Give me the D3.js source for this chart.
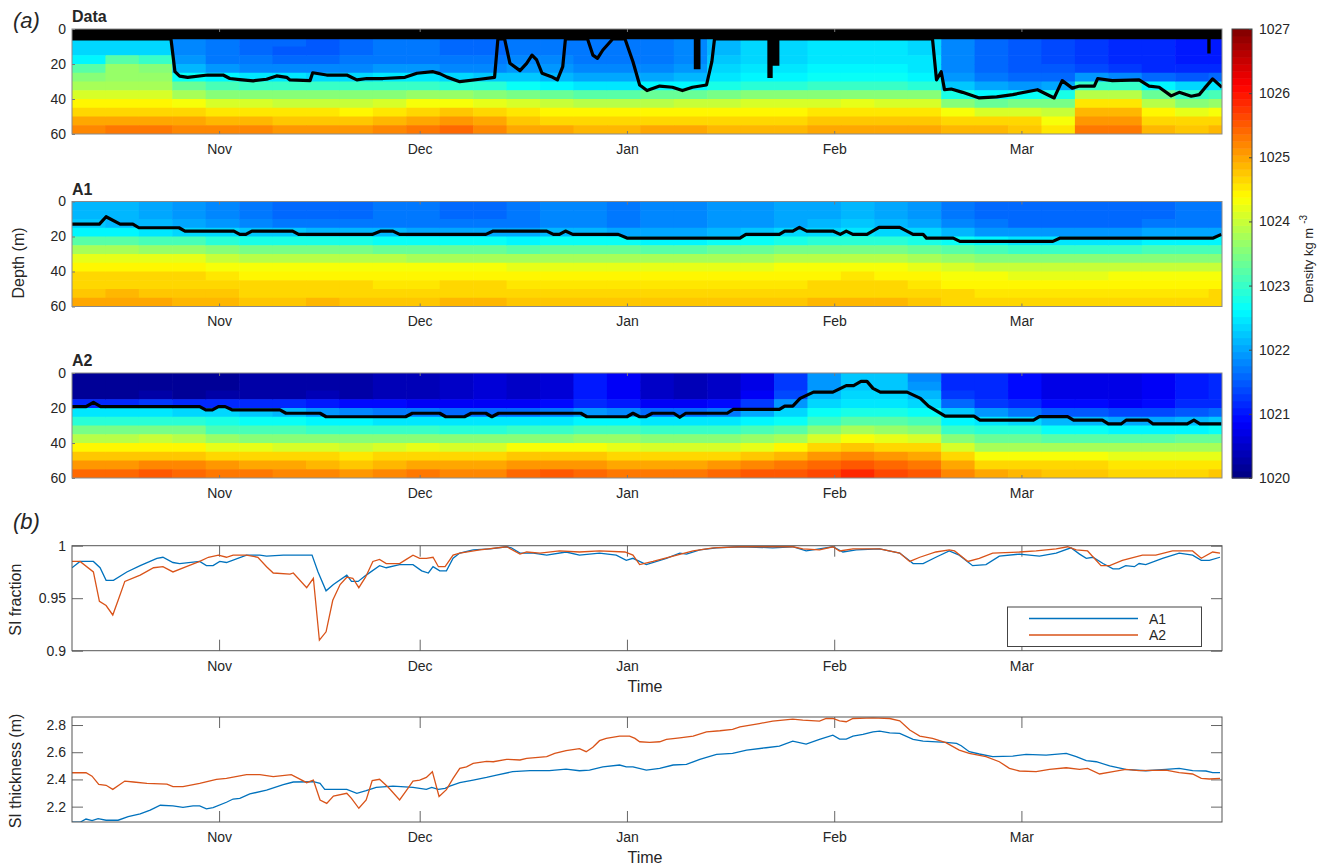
<!DOCTYPE html>
<html>
<head>
<meta charset="utf-8">
<script src="https://cdn.jsdelivr.net/npm/d3@7"></script>
<style>
  body { margin: 0; background: #fff; }
  svg text { font-family: "Liberation Sans", Arial, sans-serif; fill: #262626; }
</style>
</head>
<body>
<svg id="fig" width="1324" height="868"></svg>
<script>
// ---- grid of the density sections: 5-day columns, 5 m rows (sigma = density - 1000)
const colEdges = [0,5,10,15,20,25,30,35,40,45,50,55,60,65,70,75,80,85,90,95,100,105,110,115,120,125,130,135,140,145,150,155,160,165,170,175];
const rowEdges = [0,5,10,15,20,25,30,35,40,45,50,55,60];

const sigmaData = [
  [22.3,22.3,22.3,22.6,23.2,23.5,23.8,24.1,24.4,24.7,25.0,25.2],
  [22.4,22.4,22.4,23.2,23.7,23.7,23.8,24.1,24.4,24.7,25.0,25.3],
  [22.4,22.4,22.4,23.0,23.6,23.7,23.8,24.1,24.4,24.7,25.0,25.3],
  [21.8,21.8,21.8,21.9,22.1,22.7,23.3,23.8,24.3,24.7,25.0,25.2],
  [21.7,21.7,21.7,21.7,21.9,22.6,23.1,23.6,24.1,24.5,24.9,25.2],
  [21.6,21.6,21.6,21.7,21.8,22.5,23.0,23.6,24.1,24.5,24.9,25.2],
  [21.6,21.6,21.5,21.6,21.8,22.5,23.0,23.5,24.0,24.5,24.8,25.1],
  [21.5,21.5,21.5,21.6,21.8,22.4,23.0,23.5,24.0,24.5,24.8,25.1],
  [21.6,21.6,21.6,21.7,21.8,22.4,23.0,23.5,24.0,24.4,24.8,25.1],
  [21.7,21.7,21.7,21.7,21.9,22.5,23.0,23.6,24.1,24.5,24.9,25.2],
  [21.7,21.7,21.7,21.7,21.9,22.5,23.0,23.7,24.3,24.7,25.0,25.3],
  [21.6,21.6,21.6,21.7,21.8,22.4,22.9,23.7,24.3,24.8,25.1,25.4],
  [21.6,21.6,21.6,21.7,21.8,22.2,22.9,23.6,24.2,24.6,25.0,25.2],
  [21.7,21.7,21.7,21.8,21.9,22.2,22.7,23.4,24.1,24.5,24.8,25.0],
  [21.7,21.7,21.7,21.8,21.9,22.1,22.6,23.3,24.0,24.4,24.7,25.0],
  [21.7,21.7,21.7,21.7,21.8,22.0,22.5,23.2,23.9,24.4,24.7,24.9],
  [21.7,21.7,21.7,21.7,21.8,22.0,22.5,23.2,23.9,24.4,24.7,24.9],
  [21.7,21.7,21.7,21.7,21.8,22.0,22.6,23.3,23.9,24.4,24.7,25.0],
  [21.8,21.8,21.8,21.8,21.9,22.1,22.6,23.3,24.0,24.4,24.7,25.0],
  [22.1,22.1,22.1,22.2,22.3,22.5,22.8,23.4,24.0,24.4,24.7,24.9],
  [22.3,22.3,22.3,22.4,22.5,22.6,22.9,23.5,24.1,24.4,24.7,24.9],
  [22.4,22.4,22.4,22.4,22.5,22.6,22.9,23.5,24.1,24.4,24.7,24.9],
  [22.5,22.5,22.5,22.5,22.6,22.7,23.0,23.6,24.1,24.5,24.8,25.0],
  [22.5,22.5,22.5,22.5,22.6,22.7,23.0,23.6,24.2,24.5,24.8,25.0],
  [22.5,22.5,22.5,22.5,22.6,22.7,23.0,23.6,24.1,24.5,24.8,25.0],
  [22.4,22.4,22.4,22.5,22.5,22.6,22.9,23.5,24.1,24.5,24.8,25.0],
  [21.8,21.8,21.8,21.8,21.8,21.9,22.2,22.8,23.6,24.3,24.7,24.9],
  [21.6,21.6,21.6,21.6,21.6,21.7,22.0,22.6,23.3,24.1,24.6,24.9],
  [21.5,21.5,21.5,21.5,21.5,21.6,21.9,22.7,23.4,24.1,24.6,24.8],
  [21.4,21.4,21.4,21.4,21.5,21.6,22.0,22.8,23.4,24.0,24.3,24.5],
  [21.3,21.3,21.3,21.3,21.4,21.9,23.0,23.9,24.5,24.9,25.1,25.3],
  [21.2,21.2,21.2,21.2,21.3,21.8,23.0,23.9,24.5,24.9,25.1,25.3],
  [21.1,21.1,21.1,21.1,21.2,21.6,22.6,23.3,23.9,24.4,24.7,24.9],
  [21.0,21.0,21.0,21.0,21.1,21.5,22.4,23.0,23.6,24.2,24.6,24.8],
  [21.0,21.0,21.0,21.0,21.1,21.6,22.5,23.1,23.7,24.3,24.6,24.9]
];

const sigmaA1 = [
  [22.1,22.1,22.2,22.6,23.2,23.8,24.2,24.4,24.6,24.7,24.8,25.0],
  [22.1,22.1,22.1,22.6,23.2,23.8,24.2,24.4,24.6,24.7,24.9,25.0],
  [22.0,22.0,22.1,22.5,23.1,23.7,24.2,24.4,24.6,24.7,24.8,25.0],
  [21.9,21.9,22.0,22.4,23.1,23.7,24.2,24.4,24.6,24.7,24.8,24.9],
  [21.8,21.8,21.9,22.3,22.9,23.5,24.0,24.3,24.5,24.6,24.8,24.9],
  [21.7,21.7,21.8,22.2,22.8,23.4,23.9,24.3,24.4,24.6,24.7,24.8],
  [21.6,21.6,21.7,22.2,22.8,23.4,23.9,24.3,24.4,24.6,24.7,24.8],
  [21.6,21.6,21.7,22.1,22.8,23.4,23.9,24.3,24.4,24.6,24.7,24.9],
  [21.6,21.6,21.7,22.1,22.8,23.4,23.9,24.3,24.4,24.6,24.7,24.8],
  [21.7,21.7,21.7,22.1,22.7,23.3,23.9,24.3,24.4,24.5,24.7,24.8],
  [21.7,21.7,21.7,22.0,22.7,23.3,23.8,24.3,24.4,24.5,24.7,24.8],
  [21.6,21.6,21.7,22.0,22.7,23.3,23.8,24.3,24.4,24.6,24.7,24.9],
  [21.6,21.6,21.7,22.0,22.7,23.3,23.8,24.3,24.4,24.6,24.7,24.9],
  [21.7,21.7,21.7,22.0,22.6,23.2,23.8,24.2,24.4,24.5,24.7,24.8],
  [21.8,21.8,21.8,22.1,22.7,23.3,23.8,24.2,24.4,24.5,24.7,24.8],
  [21.8,21.8,21.8,22.1,22.7,23.3,23.8,24.2,24.4,24.5,24.7,24.8],
  [21.7,21.7,21.7,22.0,22.7,23.3,23.8,24.2,24.4,24.5,24.6,24.8],
  [21.8,21.8,21.8,22.0,22.6,23.2,23.8,24.2,24.4,24.5,24.6,24.8],
  [21.8,21.8,21.8,22.0,22.6,23.2,23.8,24.2,24.4,24.5,24.6,24.8],
  [21.9,21.9,21.9,22.1,22.7,23.3,23.8,24.2,24.4,24.5,24.6,24.8],
  [21.9,21.9,21.9,22.2,22.7,23.3,23.8,24.2,24.4,24.5,24.6,24.8],
  [22.0,22.0,22.0,22.3,22.8,23.4,23.9,24.3,24.4,24.5,24.7,24.8],
  [22.0,22.0,22.1,22.4,22.9,23.4,23.9,24.3,24.4,24.6,24.7,24.9],
  [22.1,22.1,22.2,22.5,22.9,23.4,23.9,24.3,24.5,24.6,24.7,24.9],
  [22.0,22.0,22.1,22.4,22.9,23.4,23.9,24.3,24.4,24.6,24.7,24.9],
  [21.9,21.9,22.0,22.3,22.8,23.3,23.8,24.2,24.4,24.5,24.7,24.8],
  [21.7,21.7,21.8,22.1,22.7,23.2,23.7,24.1,24.3,24.4,24.6,24.7],
  [21.6,21.6,21.7,21.9,22.6,23.1,23.6,24.0,24.3,24.4,24.5,24.7],
  [21.6,21.6,21.6,21.9,22.5,23.0,23.6,24.0,24.2,24.4,24.5,24.6],
  [21.6,21.6,21.6,21.9,22.5,23.0,23.6,24.0,24.2,24.4,24.5,24.6],
  [21.6,21.6,21.6,21.9,22.5,23.0,23.6,24.0,24.2,24.4,24.5,24.6],
  [21.6,21.6,21.6,21.9,22.5,23.0,23.6,24.0,24.3,24.4,24.5,24.7],
  [21.6,21.6,21.7,22.0,22.6,23.1,23.6,24.0,24.3,24.4,24.5,24.7],
  [21.7,21.7,21.7,22.0,22.6,23.1,23.6,24.0,24.3,24.4,24.5,24.7],
  [21.7,21.7,21.7,22.0,22.6,23.1,23.6,24.0,24.3,24.4,24.6,24.7]
];

const sigmaA2 = [
  [20.2,20.2,20.2,21.1,22.5,22.9,23.4,23.9,24.4,24.8,25.1,25.4],
  [20.2,20.2,20.2,21.2,22.5,22.9,23.4,23.9,24.4,24.8,25.1,25.4],
  [20.2,20.2,20.3,21.3,22.5,22.9,23.4,24.0,24.4,24.8,25.2,25.5],
  [20.2,20.2,20.2,21.1,22.4,22.9,23.4,23.9,24.4,24.8,25.2,25.4],
  [20.2,20.2,20.3,21.2,22.3,22.8,23.1,23.7,24.2,24.7,25.1,25.3],
  [20.3,20.3,20.3,21.2,22.2,22.7,23.1,23.6,24.2,24.7,25.0,25.3],
  [20.3,20.3,20.3,21.1,22.1,22.7,23.1,23.6,24.1,24.6,25.0,25.2],
  [20.3,20.3,20.4,21.0,21.9,22.6,23.0,23.6,24.1,24.6,24.9,25.2],
  [20.3,20.3,20.3,20.9,21.8,22.6,23.0,23.5,24.0,24.5,24.8,25.1],
  [20.4,20.4,20.4,20.9,21.7,22.5,23.0,23.5,24.1,24.6,24.9,25.2],
  [20.4,20.4,20.4,20.8,21.7,22.5,23.0,23.5,24.2,24.7,25.0,25.3],
  [20.5,20.5,20.5,20.8,21.6,22.5,22.9,23.5,24.1,24.6,25.0,25.2],
  [20.6,20.6,20.6,20.8,21.6,22.5,22.9,23.5,24.1,24.6,25.0,25.2],
  [20.5,20.5,20.5,20.8,21.6,22.5,23.0,23.6,24.3,24.8,25.1,25.4],
  [20.6,20.6,20.6,20.9,21.7,22.5,23.0,23.6,24.3,24.8,25.1,25.5],
  [21.0,21.0,21.0,21.1,21.9,22.6,23.1,23.7,24.3,24.8,25.1,25.4],
  [20.8,20.8,20.8,21.0,21.8,22.6,23.1,23.7,24.2,24.7,25.0,25.3],
  [20.5,20.5,20.5,20.8,21.6,22.5,23.0,23.6,24.1,24.6,25.0,25.3],
  [20.4,20.4,20.4,20.8,21.6,22.5,23.0,23.6,24.1,24.7,25.0,25.3],
  [20.5,20.5,20.5,20.9,21.7,22.5,23.0,23.5,24.1,24.7,25.1,25.4],
  [20.7,20.7,20.8,21.3,22.0,22.6,23.1,23.7,24.2,24.8,25.2,25.5],
  [21.3,21.3,21.4,21.9,22.4,22.7,23.2,23.8,24.4,24.9,25.3,25.5],
  [21.9,21.9,22.1,22.4,22.7,23.0,23.5,24.1,24.6,25.1,25.4,25.6],
  [22.2,22.2,22.3,22.5,22.8,23.2,23.8,24.3,24.8,25.2,25.5,25.8],
  [22.2,22.2,22.3,22.5,22.8,23.2,23.7,24.2,24.7,25.1,25.4,25.6],
  [21.8,21.9,22.1,22.4,22.7,23.1,23.6,24.1,24.6,25.0,25.3,25.5],
  [21.2,21.2,21.3,21.6,22.2,22.6,23.0,23.5,24.1,24.6,25.0,25.2],
  [21.1,21.1,21.1,21.3,21.9,22.5,22.9,23.3,23.8,24.3,24.7,25.0],
  [20.9,20.9,20.9,21.1,21.7,22.4,22.9,23.3,23.8,24.3,24.7,24.9],
  [20.7,20.7,20.7,20.9,21.5,22.1,22.7,23.2,23.8,24.3,24.6,24.8],
  [20.7,20.7,20.7,20.9,21.5,22.1,22.7,23.2,23.8,24.3,24.6,24.8],
  [20.7,20.7,20.7,20.8,21.4,22.0,22.6,23.2,23.8,24.2,24.5,24.7],
  [20.8,20.8,20.8,20.9,21.4,22.0,22.6,23.2,23.8,24.2,24.5,24.7],
  [21.0,21.0,21.0,21.1,21.5,22.1,22.6,23.3,23.8,24.2,24.5,24.7],
  [21.1,21.1,21.1,21.2,21.6,22.2,22.7,23.3,23.8,24.2,24.5,24.8]
];

// ---- mixed layer depth [day since 10 Oct, depth m]
const mldData = [[0,5.6],[14.8,5.6],[15.4,24.4],[16.1,26.9],[17.3,27.6],[20.3,26.3],[22.6,26.3],[23.6,28.3],[25.1,28.9],[27.1,29.6],[29.1,28.7],[30.6,26.8],[32.1,27.6],[32.6,29.1],[35.6,29.5],[36.0,25.0],[38.1,26.3],[41.1,26.3],[42.6,29.1],[44.1,28.3],[46.5,28.3],[49.8,27.6],[51.6,25.3],[54.0,24.4],[55.0,25.5],[56.1,27.5],[58.0,30.1],[61.0,28.7],[63.2,27.6],[63.7,5.6],[64.7,5.6],[65.5,19.6],[67.0,23.8],[68.0,19.6],[68.8,14.9],[69.5,17.7],[70.3,25.3],[71.9,27.6],[72.6,29.1],[73.4,21.5],[73.8,5.6],[77.1,5.6],[77.9,14.9],[78.6,16.8],[79.4,12.0],[80.9,5.6],[82.7,5.6],[83.9,18.7],[84.9,32.0],[86.0,35.2],[87.9,32.6],[89.8,33.3],[91.3,35.2],[92.8,33.3],[94.9,32.0],[95.7,18.7],[96.1,5.6],[128.7,5.6],[129.3,29.1],[130.0,24.4],[130.5,34.7],[131.5,34.3],[133.2,36.2],[135.7,39.4],[138.3,38.8],[140.7,37.5],[144.4,34.7],[146.9,39.4],[148.1,29.5],[149.6,33.8],[150.7,32.6],[152.9,32.6],[153.4,28.3],[155.6,29.5],[159.6,29.1],[161.1,32.6],[162.6,33.3],[164.4,38.2],[165.6,36.2],[167.4,38.4],[168.6,37.5],[169.4,33.8],[170.6,28.5],[172,33.3]];
// depth of the blank band at the top of the observations
const gapData = [[0,5.8],[93.0,5.8],[93.0,23],[94.0,23],[94.0,5.8],[104.0,5.8],[104.0,28],[104.8,28],[104.8,21],[105.8,21],[105.8,5.8],[169.8,5.8],[169.8,14],[170.3,14],[170.3,5.8],[172,5.8]];
const mldA1 = [[0,12.9],[4.1,12.9],[5.1,8.7],[7.2,12.9],[9.1,12.9],[10.0,15.0],[16.0,15.0],[16.9,16.9],[24.2,16.9],[25.1,18.8],[26.0,18.8],[26.9,16.9],[33.0,16.9],[33.9,18.8],[44.9,18.8],[46.2,16.9],[48.0,16.9],[49.0,18.8],[61.9,18.8],[63.0,16.9],[71.0,16.9],[72.0,18.8],[72.9,18.8],[73.8,16.9],[74.9,18.8],[81.7,18.8],[83.0,20.9],[99.9,20.9],[100.8,18.8],[105.8,18.8],[106.6,16.9],[107.8,16.9],[108.8,14.8],[109.9,16.9],[113.8,16.9],[114.9,18.8],[115.8,16.9],[116.8,18.8],[118.9,18.8],[120.7,14.8],[123.8,14.8],[125.8,18.8],[127.3,18.8],[127.8,20.9],[131.8,20.9],[132.8,22.8],[146.7,22.8],[147.8,20.9],[170.7,20.9],[171.9,18.8]];
const mldA2 = [[0,19.2],[2.1,19.2],[3.2,16.8],[4.3,19.2],[19.1,19.2],[20.0,21.1],[21.0,21.1],[21.9,19.2],[22.9,19.2],[24.0,21.1],[31.1,21.1],[32.0,23.0],[37.1,23.0],[38.0,25.0],[49.9,25.0],[50.9,23.0],[55.0,23.0],[55.9,25.0],[58.7,25.0],[59.7,23.0],[61.9,23.0],[62.8,25.0],[63.8,23.0],[76.1,23.0],[77.0,25.0],[83.0,25.0],[83.9,23.0],[84.9,25.0],[85.8,25.0],[86.8,23.0],[90.0,23.0],[90.9,25.3],[91.8,23.0],[98.0,23.0],[98.9,20.8],[105.8,20.8],[106.6,18.9],[107.8,18.9],[108.9,14.5],[110.9,10.9],[113.8,10.9],[115.8,7.2],[116.9,7.2],[118.0,4.8],[118.9,4.8],[119.8,8.8],[120.9,10.9],[124.9,10.9],[126.9,14.5],[128.1,18.9],[130.6,24.6],[134.9,24.6],[135.8,26.9],[143.8,26.9],[144.7,24.9],[148.9,24.9],[149.8,26.9],[154.1,26.9],[155.0,29.1],[156.9,29.1],[157.7,26.9],[160.9,26.9],[161.7,29.1],[166.8,29.1],[167.8,26.9],[168.7,29.1],[171.9,29.1]];

// ---- sea-ice fraction and thickness [day since 10 Oct, value]
const fracA1 = [[0,0.979],[1.2,0.985],[3.2,0.985],[4.2,0.979],[5.1,0.967],[6.2,0.967],[8.2,0.975],[10.2,0.981],[12.7,0.988],[13.6,0.989],[15.1,0.984],[16.1,0.983],[19.1,0.985],[20.1,0.981],[21.1,0.981],[22.1,0.985],[23.1,0.984],[26.1,0.991],[28.1,0.991],[29.1,0.990],[31.6,0.991],[34.1,0.991],[35.1,0.991],[35.9,0.991],[36.8,0.975],[38.0,0.957],[39.1,0.963],[41.1,0.972],[41.8,0.966],[42.8,0.966],[44.0,0.972],[46.0,0.981],[47.0,0.979],[49.0,0.982],[51.0,0.982],[52.3,0.976],[53.3,0.974],[54.0,0.980],[55.0,0.976],[56.0,0.976],[57.0,0.988],[58.0,0.993],[60.0,0.996],[62.5,0.997],[65.0,0.999],[65.7,0.998],[67.0,0.993],[69.0,0.993],[71.0,0.991],[73.9,0.994],[75.9,0.991],[78.9,0.993],[81.4,0.991],[82.9,0.986],[83.9,0.988],[85.9,0.982],[88.9,0.988],[90.9,0.993],[91.9,0.992],[93.9,0.996],[96.4,0.998],[99.9,0.999],[104.8,0.998],[107.8,0.999],[109.8,0.995],[111.8,0.997],[113.8,0.999],[115.3,0.994],[117.3,0.996],[120.8,0.997],[123.8,0.993],[125.8,0.983],[127.3,0.983],[129.2,0.989],[131.2,0.995],[132.7,0.991],[134.7,0.981],[136.7,0.982],[138.7,0.990],[141.7,0.992],[144.7,0.990],[147.2,0.993],[149.4,0.998],[150.7,0.992],[151.7,0.988],[152.7,0.989],[154.2,0.983],[155.7,0.978],[156.6,0.978],[157.6,0.981],[158.9,0.980],[159.6,0.983],[160.6,0.982],[163.1,0.988],[165.6,0.993],[167.6,0.991],[168.9,0.986],[170.1,0.986],[171.7,0.989]];
const fracA2 = [[0,0.985],[1.2,0.985],[3.2,0.975],[4.1,0.947],[5.1,0.943],[6.1,0.934],[6.9,0.948],[7.9,0.966],[10.2,0.972],[12.2,0.979],[13.6,0.980],[15.1,0.975],[17.1,0.980],[19.1,0.985],[20.4,0.989],[21.9,0.991],[23.1,0.989],[24.1,0.991],[26.1,0.991],[27.8,0.989],[29.1,0.980],[30.1,0.974],[32.6,0.973],[33.1,0.974],[35.1,0.960],[36.1,0.969],[37.0,0.910],[38.0,0.918],[39.0,0.948],[40.1,0.963],[41.1,0.970],[42.0,0.969],[42.9,0.960],[43.9,0.970],[45.0,0.985],[46.0,0.987],[47.0,0.983],[49.0,0.983],[50.0,0.987],[51.0,0.991],[52.0,0.988],[53.0,0.988],[54.0,0.989],[54.8,0.980],[55.8,0.980],[57.0,0.991],[58.0,0.993],[61.0,0.996],[65.0,0.999],[67.0,0.992],[68.0,0.994],[70.0,0.993],[72.9,0.995],[75.9,0.994],[78.9,0.995],[82.7,0.994],[83.9,0.991],[84.9,0.982],[86.9,0.985],[89.9,0.990],[92.9,0.995],[95.9,0.998],[99.9,0.999],[104.8,0.999],[107.8,0.999],[109.3,0.997],[111.8,0.996],[113.8,0.999],[114.8,0.995],[116.8,0.997],[120.8,0.997],[123.8,0.993],[125.3,0.985],[126.8,0.989],[129.2,0.994],[131.2,0.996],[132.0,0.995],[134.0,0.985],[135.7,0.988],[137.7,0.993],[141.7,0.994],[144.2,0.995],[147.2,0.997],[148.9,0.999],[150.2,0.996],[151.9,0.995],[153.9,0.981],[155.2,0.981],[157.1,0.986],[160.1,0.991],[162.1,0.991],[164.6,0.995],[167.6,0.995],[168.9,0.988],[170.6,0.994],[171.7,0.993]];
const thickA1 = [[0,2.085],[1.2,2.085],[2.1,2.109],[3.0,2.097],[3.9,2.112],[5.1,2.100],[6.9,2.100],[8.4,2.126],[10.2,2.146],[11.7,2.175],[13.2,2.210],[15.1,2.205],[16.6,2.195],[18.1,2.205],[19.1,2.205],[20.1,2.183],[21.1,2.192],[23.1,2.232],[24.1,2.256],[25.1,2.261],[26.6,2.293],[29.1,2.322],[31.6,2.361],[33.1,2.381],[36.1,2.383],[37.1,2.371],[37.8,2.327],[39.1,2.327],[41.1,2.327],[42.6,2.298],[44.0,2.317],[45.5,2.342],[48.0,2.351],[51.0,2.342],[53.0,2.327],[53.8,2.342],[54.8,2.327],[55.8,2.335],[56.5,2.351],[58.0,2.376],[60.0,2.395],[62.0,2.415],[63.5,2.432],[65.9,2.457],[68.5,2.464],[71.4,2.464],[73.9,2.476],[75.9,2.464],[77.4,2.469],[79.4,2.493],[81.9,2.506],[82.9,2.493],[83.9,2.493],[85.9,2.469],[87.9,2.481],[89.9,2.506],[91.9,2.510],[93.9,2.548],[96.4,2.584],[98.8,2.591],[100.9,2.616],[103.8,2.633],[105.8,2.645],[107.8,2.682],[109.8,2.660],[111.8,2.694],[113.8,2.726],[114.8,2.697],[115.8,2.697],[116.8,2.719],[118.3,2.731],[119.8,2.750],[120.8,2.755],[122.3,2.743],[123.8,2.738],[125.8,2.694],[127.3,2.682],[130.7,2.672],[132.3,2.665],[133.0,2.648],[134.2,2.604],[135.7,2.587],[137.7,2.567],[140.7,2.572],[142.7,2.584],[145.7,2.579],[148.7,2.591],[150.2,2.567],[151.7,2.538],[153.2,2.530],[155.2,2.499],[157.6,2.474],[160.6,2.464],[163.6,2.474],[165.6,2.481],[167.6,2.464],[169.6,2.462],[170.6,2.450],[171.7,2.450]];
const thickA2 = [[0,2.449],[2.1,2.449],[3.0,2.424],[4.0,2.364],[5.1,2.357],[6.1,2.327],[7.9,2.388],[9.2,2.381],[11.2,2.371],[14.2,2.366],[15.1,2.347],[16.6,2.347],[19.1,2.371],[21.6,2.401],[23.1,2.408],[26.1,2.435],[28.1,2.435],[30.1,2.420],[32.8,2.435],[35.1,2.376],[36.1,2.395],[37.1,2.249],[38.1,2.224],[39.1,2.278],[41.1,2.298],[41.8,2.261],[42.9,2.188],[44.0,2.249],[44.9,2.391],[46.0,2.401],[47.3,2.342],[49.0,2.249],[50.0,2.317],[51.0,2.388],[52.0,2.395],[53.0,2.415],[53.9,2.457],[54.9,2.275],[56.0,2.325],[57.0,2.408],[58.0,2.481],[59.0,2.493],[60.0,2.518],[62.0,2.533],[63.0,2.530],[65.0,2.548],[67.0,2.543],[68.0,2.555],[71.0,2.567],[72.2,2.591],[73.9,2.611],[75.9,2.626],[76.9,2.604],[77.9,2.636],[78.9,2.685],[79.9,2.702],[81.9,2.719],[83.4,2.719],[84.2,2.702],[84.9,2.677],[86.4,2.672],[87.9,2.677],[88.9,2.694],[90.9,2.706],[92.9,2.719],[94.9,2.750],[96.9,2.758],[98.8,2.768],[99.9,2.787],[102.8,2.811],[104.8,2.829],[107.8,2.843],[109.3,2.836],[111.8,2.829],[112.8,2.848],[113.8,2.848],[114.8,2.831],[115.8,2.824],[116.8,2.848],[119.8,2.853],[122.3,2.848],[123.8,2.831],[125.3,2.763],[126.8,2.719],[128.7,2.702],[130.7,2.670],[132.7,2.616],[134.2,2.591],[136.7,2.567],[138.7,2.530],[140.2,2.481],[141.7,2.462],[144.2,2.457],[146.2,2.474],[148.7,2.486],[150.7,2.474],[151.9,2.481],[153.7,2.440],[155.7,2.457],[157.6,2.474],[159.6,2.464],[163.6,2.469],[165.6,2.450],[167.6,2.440],[168.9,2.408],[170.1,2.403],[171.7,2.408]];

const monthTicks = ["2014-11-01","2014-12-01","2015-01-01","2015-02-01","2015-03-01"];
const depthTicks = [0, 20, 40, 60];
const fracTicks = [0.9, 0.95, 1];
const thickTicks = [2.2, 2.4, 2.6, 2.8];
const cbarTicks = [20, 21, 22, 23, 24, 25, 26, 27];
const seriesNames = ["A1", "A2"];
const seriesColors = ["#0072BD", "#D95319"];

// ---- setup
const svg = d3.select("#fig");
const t0 = Date.UTC(2014, 9, 10);
const toDate = d => new Date(t0 + d * 864e5);
const x = d3.scaleUtc().domain([toDate(0), toDate(172)]).range([72, 1222]);
const monthDates = monthTicks.map(s => new Date(s + "T00:00:00Z"));

// MATLAB jet(64)
function jet(t) {
  const c = v => Math.max(0, Math.min(1, v));
  const r = c(Math.min(4 * t - 1.5, -4 * t + 4.5));
  const g = c(Math.min(4 * t - 0.5, -4 * t + 3.5));
  const b = c(Math.min(4 * t + 0.5, -4 * t + 2.5));
  return d3.rgb(r * 255, g * 255, b * 255).formatHex();
}
const cNorm = d3.scaleLinear().domain([20, 27]).range([0, 1]).clamp(true);
const colorOf = v => { const i = Math.min(63, Math.floor(cNorm(v) * 64)); return jet((i + 0.5) / 64); };

function styleAxis(g, tickColor) {
  g.attr("font-size", 14).attr("font-family", '"Liberation Sans", Arial, sans-serif').attr("color", "#262626");
  g.select(".domain").remove();
  g.selectAll(".tick line").attr("stroke", tickColor);
}

function heatPanel(id, top, grid, mld, title, gap) {
  const y = d3.scaleLinear().domain([0, 60]).range([top, top + 105]);
  svg.append("clipPath").attr("id", id).append("rect")
    .attr("x", 72).attr("y", top).attr("width", 1150).attr("height", 105);
  const g = svg.append("g").attr("clip-path", `url(#${id})`);
  const cells = grid.flatMap((col, i) => col.map((v, j) => ({ i, j, v })));
  g.selectAll("rect").data(cells).join("rect")
    .attr("x", d => x(toDate(colEdges[d.i])))
    .attr("y", d => y(rowEdges[d.j]))
    .attr("width", d => x(toDate(colEdges[d.i + 1])) - x(toDate(colEdges[d.i])) + 0.6)
    .attr("height", d => y(rowEdges[d.j + 1]) - y(rowEdges[d.j]) + 0.6)
    .attr("fill", d => colorOf(d.v));
  if (gap) {
    g.append("path").datum(gap)
      .attr("d", d3.area().x(d => x(toDate(d[0]))).y0(y(0)).y1(d => y(d[1])))
      .attr("fill", "#000");
  }
  g.append("path").datum(mld)
    .attr("d", d3.line().x(d => x(toDate(d[0]))).y(d => y(d[1])))
    .attr("fill", "none").attr("stroke", "#000").attr("stroke-width", 3.2)
    .attr("stroke-linejoin", "round");

  svg.append("g").attr("transform", `translate(0,${top + 105})`)
    .call(d3.axisBottom(x).tickValues(monthDates).tickFormat(d3.utcFormat("%b")).tickSize(-3).tickPadding(10))
    .call(g => styleAxis(g, "#777"));
  svg.append("g").attr("transform", `translate(0,${top})`)
    .call(d3.axisTop(x).tickValues(monthDates).tickFormat("").tickSize(-3))
    .call(g => styleAxis(g, "#777"));
  svg.append("g").attr("transform", "translate(72,0)")
    .call(d3.axisLeft(y).tickValues(depthTicks).tickFormat(d => String(d)).tickSize(-3).tickPadding(6))
    .call(g => styleAxis(g, "#777"));
  svg.append("rect").attr("x", 72).attr("y", top).attr("width", 1150).attr("height", 105)
    .attr("fill", "none").attr("stroke", "#8a8a8a").attr("stroke-width", 1);
  svg.append("text").attr("x", 72).attr("y", top - 7)
    .attr("font-size", 16).attr("font-weight", "bold").attr("fill", "#000").text(title);
}

heatPanel("clipData", 29, sigmaData, mldData, "Data", gapData);
heatPanel("clipA1", 201.5, sigmaA1, mldA1, "A1");
heatPanel("clipA2", 373, sigmaA2, mldA2, "A2");

// ---- colorbar
const cy = d3.scaleLinear().domain([20, 27]).range([478, 29]);
const cb = svg.append("g");
cb.selectAll("rect").data(d3.range(64)).join("rect")
  .attr("x", 1232).attr("width", 20)
  .attr("y", i => cy(20 + (i + 1) * 7 / 64))
  .attr("height", i => cy(20 + i * 7 / 64) - cy(20 + (i + 1) * 7 / 64) + 0.5)
  .attr("fill", i => jet((i + 0.5) / 64));
svg.append("rect").attr("x", 1232).attr("y", 29).attr("width", 20).attr("height", 449)
  .attr("fill", "none").attr("stroke", "#444");
svg.append("g").attr("transform", "translate(1252,0)")
  .call(d3.axisRight(cy).tickValues(cbarTicks).tickFormat(d => 1000 + d).tickSize(-3).tickPadding(7))
  .call(g => styleAxis(g, "#444"));
const cbl = svg.append("text").attr("transform", "translate(1313,303) rotate(-90)")
  .attr("font-size", 13);
cbl.append("tspan").text("Density kg m");
cbl.append("tspan").attr("dx", 4).attr("dy", -6).attr("font-size", 10).text("-3");

// ---- line panels
function linePanel(id, top, domain, ticks, series, ylabel) {
  const y = d3.scaleLinear().domain(domain).range([top + 105, top]);
  svg.append("clipPath").attr("id", id).append("rect")
    .attr("x", 72).attr("y", top).attr("width", 1150).attr("height", 105);
  svg.append("g").attr("transform", `translate(0,${top + 105})`)
    .call(d3.axisBottom(x).tickValues(monthDates).tickFormat(d3.utcFormat("%b")).tickSize(-11).tickPadding(10))
    .call(g => styleAxis(g, "#666"));
  svg.append("g").attr("transform", `translate(0,${top})`)
    .call(d3.axisTop(x).tickValues(monthDates).tickFormat("").tickSize(-11))
    .call(g => styleAxis(g, "#666"));
  svg.append("g").attr("transform", "translate(72,0)")
    .call(d3.axisLeft(y).tickValues(ticks).tickFormat(d => String(d)).tickSize(-11).tickPadding(6))
    .call(g => styleAxis(g, "#666"));
  svg.append("g").attr("transform", "translate(1222,0)")
    .call(d3.axisRight(y).tickValues(ticks).tickFormat("").tickSize(-11))
    .call(g => styleAxis(g, "#666"));
  const g = svg.append("g").attr("clip-path", `url(#${id})`);
  const line = d3.line().x(d => x(toDate(d[0]))).y(d => y(d[1]));
  series.forEach((s, k) => {
    g.append("path").datum(s).attr("d", line)
      .attr("fill", "none").attr("stroke", seriesColors[k]).attr("stroke-width", 1.3);
  });
  svg.append("rect").attr("x", 72).attr("y", top).attr("width", 1150).attr("height", 105)
    .attr("fill", "none").attr("stroke", "#555").attr("stroke-width", 1);
  svg.append("text").attr("transform", `translate(21,${top + 54}) rotate(-90)`)
    .attr("text-anchor", "middle").attr("font-size", 16).text(ylabel);
  svg.append("text").attr("x", 645).attr("y", top + 146)
    .attr("text-anchor", "middle").attr("font-size", 16).text("Time");
}

linePanel("clipFrac", 545.7, [0.9, 1.0], fracTicks, [fracA1, fracA2], "SI fraction");
linePanel("clipThick", 717, [2.087, 2.859], thickTicks, [thickA1, thickA2], "SI thickness (m)");

// legend
const lg = svg.append("g");
lg.append("rect").attr("x", 1007.5).attr("y", 607).attr("width", 194).attr("height", 39.5)
  .attr("fill", "#fff").attr("stroke", "#444");
seriesNames.forEach((name, k) => {
  const yy = 618.5 + k * 16.5;
  lg.append("line").attr("x1", 1029).attr("x2", 1138).attr("y1", yy).attr("y2", yy)
    .attr("stroke", seriesColors[k]).attr("stroke-width", 1.3);
  lg.append("text").attr("x", 1149).attr("y", yy + 5).attr("font-size", 14).attr("fill", "#000").text(name);
});

// y label for depth and panel letters
svg.append("text").attr("transform", "translate(24,263) rotate(-90)")
  .attr("text-anchor", "middle").attr("font-size", 16).text("Depth (m)");
svg.append("text").attr("x", 13).attr("y", 28).attr("font-size", 22)
  .attr("font-family", '"DejaVu Sans", sans-serif').attr("font-style", "italic").attr("fill", "#000").text("(a)");
svg.append("text").attr("x", 13).attr("y", 529).attr("font-size", 22)
  .attr("font-family", '"DejaVu Sans", sans-serif').attr("font-style", "italic").attr("fill", "#000").text("(b)");
</script>
</body>
</html>
